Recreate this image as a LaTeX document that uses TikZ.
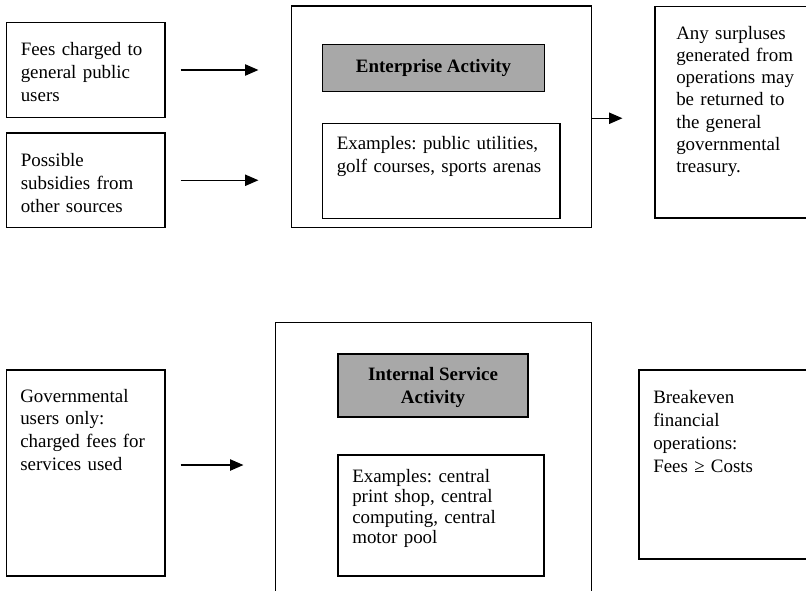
\documentclass[tikz,border=0pt]{standalone}
\usepackage{fontspec}
\setmainfont{Liberation Serif}
\usetikzlibrary{arrows.meta}
\frenchspacing
\newdimen\px
\px=0.75pt
\tikzset{
  frame/.style={draw=black, line width=0.9pt, rectangle, inner sep=0pt},
  shade box/.style={frame, fill=black!34},
  txt/.style={anchor=base west, inner sep=0pt, align=left, text width=200pt,
              font=\fontsize{14.2}{#1}\selectfont},
  txt/.default=17pt,
  title/.style={inner sep=0pt, align=center, font=\fontsize{14.2}{17.2}\selectfont\bfseries},
  flow/.style={line width=0.85pt, -{Triangle[length=10pt,width=8.5pt]}}
}
\begin{document}
\begin{tikzpicture}[x=\px, y=-\px]
\useasboundingbox (0,0) rectangle (806,590);
\clip (0,0) rectangle (806,590);

% ---- enterprise activity ----
\node[frame, minimum width=158.5\px, minimum height=95\px]   (fees) at (85.75,70) {};
\node[frame, minimum width=158.5\px, minimum height=94.5\px] (subs) at (85.75,180.25) {};
\node[frame, minimum width=300\px, minimum height=221.5\px]  (ent)  at (441.5,116.75) {};
\node[shade box, minimum width=222\px, minimum height=47\px] (entgray) at (433.5,68) {};
\node[frame, minimum width=237.5\px, minimum height=95\px]   (entex) at (441.25,171) {};
\node[frame, minimum width=165\px, minimum height=211.5\px]  (surplus) at (737.5,112.25) {};

\node[txt=17.5pt] (feestxt) at (20.5,55) {Fees charged to\\general public\\users};
\node[txt=17.5pt] (substxt) at (20.5,166) {Possible\\subsidies from\\other sources};
\node[title] (enttitle) at (entgray.center) {Enterprise Activity};
\node[txt=17.5pt] (entextxt) at (336.5,149) {Examples: public utilities,\\golf courses, sports arenas};
\node[txt=16.7pt] (surplustxt) at (676,39) {Any surpluses\\generated from\\operations may\\be returned to\\the general\\governmental\\treasury.};

\draw[flow] ([xshift=15\px]fees.east) -- ([xshift=-32.5\px]ent.west |- fees.east);
\draw[flow] ([xshift=15\px]subs.east) -- ([xshift=-32.5\px]ent.west |- subs.east);
\coordinate (surin) at ([xshift=-32\px,yshift=-1.5\px]surplus.west |- ent.east);
\draw[flow] ([yshift=-1.5\px]ent.east) -- (surin);

% ---- internal service activity ----
\node[frame, minimum width=158.5\px, minimum height=206\px]  (gov) at (85.75,473) {};
\node[frame, minimum width=316\px, minimum height=282.5\px]  (isa) at (433.5,463.75) {};
\node[shade box, minimum width=190\px, minimum height=63\px] (isagray) at (433,385.5) {};
\node[frame, minimum width=206\px, minimum height=121\px]    (isaex) at (441,515.5) {};
\node[frame, minimum width=181\px, minimum height=189\px]    (brk) at (729.5,464.5) {};

\node[txt=17pt] (govtxt) at (20,402) {Governmental\\users only:\\charged fees for\\services used};
\node[title] (isatitle) at ([yshift=-2\px]isagray.center) {Internal Service\\Activity};
\node[txt=15.4pt] (isaextxt) at (352,482) {Examples: central\\print shop, central\\computing, central\\motor pool};
\node[txt=17.3pt] (brktxt) at (653,403) {Breakeven\\financial\\operations:\\Fees ≥ Costs};

\coordinate (govout) at ([xshift=15\px,yshift=8\px]gov.east);
\draw[flow] (govout) -- ([xshift=-31.5\px]isa.west |- govout);
\end{tikzpicture}
\end{document}
